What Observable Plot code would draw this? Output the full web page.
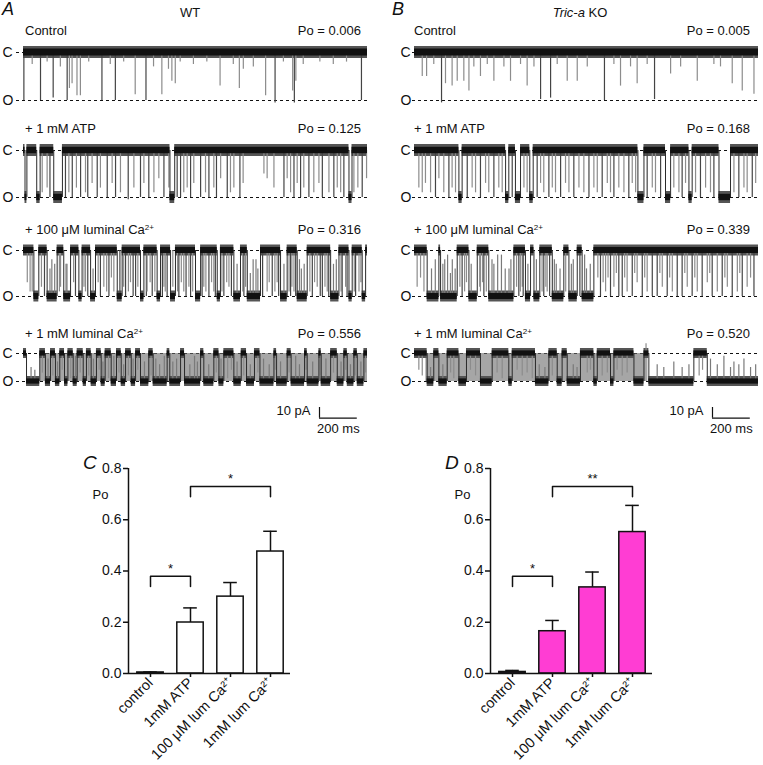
<!DOCTYPE html>
<html><head><meta charset="utf-8">
<script src="https://cdn.jsdelivr.net/npm/d3@7"></script>
<script src="https://cdn.jsdelivr.net/npm/@observablehq/plot@0.6"></script>
<style>
body{margin:0;background:#fff;}
#fig{position:relative;width:763px;height:765px;font-family:"Liberation Sans",Arial,Helvetica,sans-serif;color:#111;overflow:hidden;background:#fff;}
.t{position:absolute;white-space:nowrap;line-height:1;}
.abs{position:absolute;}
.abs svg{max-width:none;overflow:visible;}
sup{font-size:0.62em;vertical-align:0.55em;line-height:0;}
</style></head><body><div id="fig"></div>
<script>
// ---------------- DATA ----------------
const conditionNames = ["Control", "+ 1 mM ATP", "+ 100 \u03bcM luminal Ca", "+ 1 mM luminal Ca"];
const conditionSup = ["", "", "2+", "2+"];
const wtPo = [0.006, 0.125, 0.316, 0.556];
const koPo = [0.005, 0.168, 0.339, 0.520];
const duration = 1820; // ms
const scaleBarMs = 200;
const scaleBarPa = 10;

// single-channel traces: open dwells [start, end] (ms), brief openings [t, depth], brief closings [t, depth], unresolved bursts [start, end]
const wtControlOpen = [];
const wtControlBrief = [[2,1.0],[90,1.0],[157,0.95],[231,1.0],[243,0.75],[257,0.65],[283,0.9],[301,0.9],[415,1.0],[486,1.0],[591,0.88],[648,1.0],[732,0.88],[767,0.35],[785,0.6],[803,0.65],[1040,0.7],[1142,0.75],[1163,0.35],[1281,0.9],[1331,1.05],[1424,0.8],[1433,1.05],[1441,0.6],[1788,1.0],[46,0.25],[125,0.2],[195,0.3],[345,0.2],[459,0.25],[530,0.2],[688,0.3],[829,0.2],[899,0.25],[970,0.2],[1110,0.25],[1216,0.3],[1375,0.2],[1480,0.25],[1568,0.2],[1639,0.25],[1709,0.2]];
const wtControlFlick = [];
const wtControlBurst = [];

const koControlOpen = [];
const koControlBrief = [[41,0.5],[64,0.5],[143,1.05],[164,0.65],[199,0.7],[226,0.6],[261,0.6],[288,0.8],[349,0.5],[420,0.6],[508,0.6],[596,0.7],[667,0.98],[720,0.95],[808,0.6],[861,0.6],[1005,1.0],[1090,0.7],[1178,0.65],[1270,0.98],[1355,0.45],[1496,0.6],[1681,0.65],[1734,0.8],[1796,0.87],[102,0.25],[314,0.3],[385,0.25],[473,0.3],[561,0.25],[632,0.3],[755,0.25],[914,0.3],[1055,0.25],[1143,0.3],[1231,0.25],[1408,0.3],[1584,0.25],[1619,0.3]];
const koControlFlick = [];
const koControlBurst = [];

const wtAtpOpen = [[8,18],[70,88],[160,206],[775,800],[1722,1738]];
const wtAtpBrief = [[99,0.9],[125,0.8],[140,1.0],[222,1.0],[240,0.9],[258,1.0],[280,0.8],[302,1.0],[328,0.9],[340,1.0],[363,0.7],[390,1.0],[407,0.8],[443,1.0],[469,0.7],[487,1.0],[513,0.9],[554,1.05],[584,0.8],[619,1.0],[637,0.7],[663,1.0],[690,0.9],[716,0.6],[743,1.0],[769,0.8],[813,1.0],[831,1.0],[848,0.9],[866,0.8],[884,1.0],[901,0.7],[937,1.0],[963,0.9],[981,1.0],[1007,0.8],[1021,1.0],[1043,0.6],[1078,1.0],[1095,0.9],[1113,0.8],[1145,1.0],[1162,0.7],[1272,0.5],[1289,0.6],[1325,0.8],[1378,1.0],[1395,0.6],[1413,0.9],[1431,1.0],[1448,0.7],[1466,1.0],[1483,0.8],[1510,1.0],[1536,0.9],[1563,0.7],[1581,1.0],[1616,0.9],[1642,1.0],[1660,0.8],[1678,0.9],[1695,1.0],[1748,0.9],[1769,0.8],[1792,1.0],[1815,0.6]];
const wtAtpFlick = [];
const wtAtpBurst = [];

const koAtpOpen = [[235,252],[482,499],[534,561],[610,628],[1182,1214],[1328,1355],[1452,1469],[1611,1672]];
const koAtpBrief = [[23,0.8],[41,0.9],[58,0.7],[85,0.9],[111,1.0],[129,0.6],[155,0.9],[182,1.0],[199,0.8],[217,0.9],[279,1.0],[305,0.8],[323,0.9],[349,1.0],[376,0.7],[393,0.9],[420,1.0],[446,0.8],[464,0.9],[517,1.0],[579,0.8],[596,0.9],[649,1.0],[667,0.7],[684,0.9],[711,1.0],[729,0.8],[746,0.9],[773,1.0],[799,0.7],[817,0.9],[843,1.0],[870,0.8],[896,0.9],[923,1.0],[949,0.8],[967,0.9],[993,1.0],[1020,0.7],[1037,0.9],[1055,1.0],[1081,0.8],[1108,0.9],[1134,1.0],[1152,0.7],[1170,0.9],[1231,1.0],[1258,0.8],[1275,0.9],[1302,1.0],[1372,0.8],[1399,0.9],[1416,1.0],[1434,0.7],[1487,0.9],[1513,1.0],[1540,0.8],[1566,0.9],[1584,1.0],[1690,0.9],[1716,1.0],[1743,0.8],[1760,0.9],[1787,1.0],[1805,0.7]];
const koAtpFlick = [];
const koAtpBurst = [];

const wtCa100Open = [[55,81],[125,178],[213,249],[293,310],[355,381],[496,522],[619,637],[707,725],[778,804],[910,937],[1025,1042],[1113,1148],[1184,1254],[1360,1395],[1448,1501],[1625,1669],[1722,1739],[1792,1810]];
const wtCa100Brief = [[20,0.7],[35,0.9],[46,0.9],[95,0.8],[111,1],[190,0.9],[196,0.8],[265,0.7],[275,1],[320,0.8],[328,0.9],[340,1],[395,0.7],[407,1],[425,0.8],[440,0.9],[452,1],[465,0.6],[478,0.9],[510,1],[530,0.8],[540,1],[555,0.9],[566,0.7],[580,1],[593,1],[605,0.8],[650,1],[654,0.9],[670,0.7],[681,1],[695,0.9],[735,1],[743,0.8],[750,0.9],[760,1],[790,0.8],[815,0.9],[822,1],[835,0.7],[848,0.9],[860,1],[875,0.8],[884,1],[895,0.9],[945,1],[954,0.8],[965,0.9],[981,1],[995,0.7],[1007,0.9],[1015,1],[1050,0.9],[1060,1],[1075,0.7],[1087,0.8],[1100,1],[1160,0.9],[1166,1],[1175,0.8],[1265,1],[1289,0.9],[1300,0.7],[1316,1],[1330,0.9],[1342,0.7],[1350,1],[1405,0.9],[1413,1],[1420,0.8],[1431,0.9],[1440,1],[1515,0.9],[1528,1],[1540,0.7],[1554,0.8],[1570,1],[1581,1],[1595,0.8],[1607,0.9],[1615,1],[1680,0.9],[1686,1],[1704,0.8],[1712,1],[1750,0.9],[1757,1],[1775,0.9],[1785,0.7]];
const wtCa100Flick = [[140,0.6],[150,0.8],[165,0.7],[225,0.7],[230,0.7],[368,0.6],[1130,0.7],[1200,0.5],[1215,0.8],[1230,0.8],[1240,0.6],[1378,0.7],[1460,0.8],[1470,0.6],[1485,0.7],[1640,0.7],[1655,0.8]];
const wtCa100Burst = [];

const koCa100Open = [[67,129],[138,226],[288,332],[393,526],[587,614],[632,663],[729,790],[817,861],[887,949]];
const koCa100Brief = [[14,0.8],[32,0.6],[50,0.9],[240,0.8],[252,1],[265,0.9],[275,0.7],[345,0.8],[349,0.9],[360,0.7],[367,1],[380,0.9],[540,0.8],[552,1],[560,0.9],[570,0.8],[575,1],[675,0.9],[684,1],[695,0.8],[702,0.9],[715,1],[800,0.9],[875,1],[970,0.6],[984,1],[998,0.7],[1011,0.9],[1024,0.6],[1037,1],[1055,0.8],[1068,0.5],[1081,1],[1099,1],[1112,0.6],[1125,0.9],[1152,1],[1165,0.5],[1178,0.7],[1205,1],[1218,0.6],[1231,0.9],[1258,1],[1284,1],[1298,0.5],[1311,0.8],[1337,1],[1350,0.6],[1364,0.9],[1390,1],[1416,1],[1430,0.5],[1443,0.8],[1469,1],[1483,0.6],[1496,0.9],[1522,1],[1549,0.7],[1562,0.5],[1575,1],[1602,0.9],[1628,1],[1642,0.6],[1655,0.8],[1681,1],[1708,0.9],[1721,0.5],[1734,1],[1760,0.8],[1778,0.6],[1796,1]];
const koCa100Flick = [[90,0.6],[110,0.8],[150,0.7],[160,0.8],[175,0.9],[190,0.5],[200,0.8],[215,0.6],[300,0.7],[410,0.8],[420,0.7],[440,0.9],[460,0.9],[480,0.6],[500,0.6],[510,0.8],[600,0.7],[645,0.8],[740,0.8],[750,0.7],[770,0.6],[830,0.7],[840,0.8],[900,0.9],[910,0.6],[930,0.7]];
const koCa100Burst = [];

const wtCa1Open = [[16,86],[116,143],[169,192],[217,235],[263,284],[316,333],[358,386],[411,432],[464,492],[517,540],[570,593],[619,663],[686,760],[774,831],[852,937],[954,1007],[1034,1060],[1113,1152],[1180,1222],[1251,1325],[1339,1395],[1416,1487],[1501,1563],[1575,1625],[1660,1695],[1713,1748],[1766,1801]];
const wtCa1Brief = [[100,0.7],[155,0.8],[205,0.6],[250,0.9],[300,0.7],[345,0.8],[400,0.6],[450,0.9],[505,0.7],[555,0.8],[605,0.6],[675,0.8],[1020,0.7],[1080,0.9],[1100,0.6],[1165,0.8],[1240,0.7],[1332,0.6],[1405,0.7],[1495,0.6],[1570,0.8],[1640,0.7],[1705,0.6],[1755,0.8],[1810,0.7]];
const wtCa1Flick = [[40,0.5],[60,0.4],[130,0.8],[180,0.7],[275,0.9],[370,0.8],[420,0.7],[478,0.9],[530,0.6],[580,0.8],[640,0.7],[700,0.8],[720,0.6],[745,0.9],[790,0.7],[810,0.8],[880,0.6],[905,0.9],[920,0.7],[980,0.6],[1045,0.8],[1130,0.7],[1200,0.6],[1270,0.8],[1300,0.6],[1360,0.7],[1440,0.9],[1460,0.6],[1530,0.7],[1600,0.8],[1680,0.7],[1730,0.6],[1785,0.7]];
const wtCa1Burst = [[90,1820]];

const koCa1Open = [[67,102],[129,173],[235,275],[349,411],[499,517],[640,711],[755,781],[808,878],[949,967],[1037,1055],[1161,1214],[1240,1478],[1549,1820]];
const koCa1Brief = [[23,0.6],[41,0.8],[191,0.7],[208,0.9],[296,0.6],[323,0.8],[437,0.7],[464,0.9],[543,0.6],[570,0.8],[596,0.7],[623,0.9],[729,0.8],[914,0.7],[931,0.6],[993,0.8],[1020,0.7],[1072,0.6],[1099,0.8],[1125,0.7],[1225,-0.35],[1506,0.8],[1524,0.6]];
const koCa1Flick = [[85,0.5],[150,0.6],[660,0.6],[690,0.5],[840,0.6],[860,0.5],[1284,0.6],[1319,0.5],[1372,0.7],[1416,0.5],[1452,0.6],[1566,0.8],[1602,0.6],[1637,0.9],[1672,0.5],[1690,0.7],[1716,0.6],[1743,0.8],[1778,0.5],[1805,0.6]];
const koCa1Burst = [[60,1235]];

// summary bar charts
const barCategories = ["control", "1mM ATP", "100 \u03bcM lum Ca\u00b2\u207a", "1mM lum Ca\u00b2\u207a"];
const wtMeanPo = [0.004, 0.199, 0.300, 0.476];
const wtSemPo = [0.002, 0.057, 0.055, 0.079];
const koMeanPo = [0.006, 0.165, 0.336, 0.552];
const koSemPo = [0.006, 0.042, 0.060, 0.104];
const yTicks = [0, 0.2, 0.4, 0.6, 0.8];
const wtSig = [{a: 0, b: 1, y: 0.38, label: "*"}, {a: 1, b: 3, y: 0.73, label: "*"}];
const koSig = [{a: 0, b: 1, y: 0.38, label: "*"}, {a: 1, b: 3, y: 0.73, label: "**"}];

// ---------------- LAYOUT ----------------
const fig = document.getElementById("fig");
const FONT = '"Liberation Sans", Arial, Helvetica, sans-serif';
const rowC = [52, 150, 250, 353];
const rowO = [100, 197, 296, 381];
const titleY = [30, 128, 229, 333];
const noiseOuter = [6, 6, 5.5, 5];
const noiseInner = [3.5, 3.2, 3, 2.6];
const panels = [
  {svgLeft: 0, svgW: 372, x0: 23, x1: 367, labelX: 2, dashStart: 16, titleX: 25, poRight: 361,
   open: [wtControlOpen, wtAtpOpen, wtCa100Open, wtCa1Open], brief: [wtControlBrief, wtAtpBrief, wtCa100Brief, wtCa1Brief],
   flick: [wtControlFlick, wtAtpFlick, wtCa100Flick, wtCa1Flick], burst: [wtControlBurst, wtAtpBurst, wtCa100Burst, wtCa1Burst], po: wtPo, barX: 319},
  {svgLeft: 388, svgW: 375, x0: 414, x1: 758, labelX: 400, dashStart: 412, titleX: 414, poRight: 750,
   open: [koControlOpen, koAtpOpen, koCa100Open, koCa1Open], brief: [koControlBrief, koAtpBrief, koCa100Brief, koCa1Brief],
   flick: [koControlFlick, koAtpFlick, koCa100Flick, koCa1Flick], burst: [koControlBurst, koAtpBurst, koCa100Burst, koCa1Burst], po: koPo, barX: 712}
];

function text(html, {x, yc, fs = 13, align = "left", italic = false}) {
  const d = document.createElement("div");
  d.className = "t";
  d.innerHTML = html;
  d.style.fontSize = fs + "px";
  d.style.top = (yc - 0.49 * fs) + "px";
  if (italic) d.style.fontStyle = "italic";
  if (align === "left") d.style.left = x + "px";
  else if (align === "right") d.style.right = (763 - x) + "px";
  else { d.style.left = x + "px"; d.style.transform = "translateX(-50%)"; }
  fig.appendChild(d);
}
function place(svg, left, top) {
  const w = document.createElement("div");
  w.className = "abs";
  w.style.left = left + "px";
  w.style.top = top + "px";
  w.appendChild(svg);
  fig.appendChild(w);
}
function complement(open) {
  const out = []; let t = 0;
  for (const [a, b] of open) { if (a > t) out.push([t, a]); t = Math.max(t, b); }
  if (t < duration) out.push([t, duration]);
  return out;
}

// headings
text("A", {x: 2, yc: 9, fs: 18, italic: true});
text("WT", {x: 190, yc: 12.5, fs: 13, align: "center"});
text("B", {x: 392, yc: 9, fs: 18, italic: true});
text("<i>Tric-a</i> KO", {x: 580, yc: 12.5, fs: 13, align: "center"});

for (const P of panels) {
  for (let r = 0; r < 4; r++) {
    text(conditionNames[r] + (conditionSup[r] ? "<sup>" + conditionSup[r] + "</sup>" : ""), {x: P.titleX, yc: titleY[r], fs: 13});
    text("Po = " + P.po[r].toFixed(3), {x: P.poRight, yc: titleY[r], fs: 13, align: "right"});
    const c = rowC[r], o = rowO[r], amp = o - c;
    const padT = 14, padB = 14;
    const nO = noiseOuter[r] / amp, nI = noiseInner[r] / amp;
    const open = P.open[r], closed = complement(open);
    const edges = open.flat().filter(t => t > 0 && t < duration);
    const svg = Plot.plot({
      width: P.svgW, height: amp + padT + padB,
      marginLeft: P.x0 - P.svgLeft, marginRight: P.svgLeft + P.svgW - P.x1,
      marginTop: padT, marginBottom: padB,
      x: {domain: [0, duration], axis: null},
      y: {domain: [-1, 0], axis: null},
      style: {fontFamily: FONT, fontSize: "14px", color: "#111", background: "transparent", overflow: "visible"},
      marks: [
        Plot.ruleY([0, -1], {stroke: "#111", strokeWidth: 1, strokeDasharray: "3,3", insetLeft: -(P.x0 - P.dashStart)}),
        Plot.text([{n: "C", v: 0}, {n: "O", v: -1}], {y: "v", text: "n", frameAnchor: "left", textAnchor: "start", dx: P.labelX - P.x0, fontSize: 14, fill: "#111"}),
        Plot.rect(P.burst[r], {x1: d => d[0], x2: d => d[1], y1: -1, y2: 0, fill: "#6a6a6a", fillOpacity: 0.6}),
        Plot.rect(closed, {x1: d => d[0], x2: d => d[1], y1: -nO, y2: nO, fill: "#555"}),
        Plot.rect(open, {x1: d => d[0], x2: d => d[1], y1: -1 - nO, y2: -1 + nO, fill: "#555"}),
        Plot.ruleX(P.brief[r], {x: d => d[0], y1: 0, y2: d => -d[1], stroke: d => d[1] >= 0.95 ? "#444" : "#8c8c8c", strokeWidth: 1.2}),
        Plot.ruleX(P.flick[r], {x: d => d[0], y1: -1, y2: d => -1 + d[1], stroke: "#7a7a7a", strokeWidth: 1.2}),
        Plot.ruleX(edges, {y1: 0, y2: -1, stroke: "#2a2a2a", strokeWidth: 1}),
        Plot.rect(closed, {x1: d => d[0], x2: d => d[1], y1: -nI, y2: nI, fill: "#111"}),
        Plot.rect(open, {x1: d => d[0], x2: d => d[1], y1: -1 - nI, y2: -1 + nI, fill: "#111"})
      ]
    });
    place(svg, P.svgLeft, c - padT);
  }
  // scale bar
  const pxPerMs = (P.x1 - P.x0) / duration;
  const barW = scaleBarMs * pxPerMs, barH = scaleBarPa * 1.07;
  const ml = 60, mt = 4, mb = 24;
  const sb = Plot.plot({
    width: ml + barW + 20, height: mt + barH + mb,
    marginLeft: ml, marginRight: 20, marginTop: mt, marginBottom: mb,
    x: {domain: [0, scaleBarMs], axis: null},
    y: {domain: [0, scaleBarPa], axis: null},
    style: {fontFamily: FONT, fontSize: "13px", color: "#111", background: "transparent", overflow: "visible"},
    marks: [
      Plot.ruleX([0], {y1: 0, y2: scaleBarPa, stroke: "#111", strokeWidth: 1.2}),
      Plot.ruleY([0], {x1: 0, x2: scaleBarMs, stroke: "#111", strokeWidth: 1.2}),
      Plot.text([scaleBarPa + " pA"], {x: 0, y: scaleBarPa * 0.7, dx: -9, textAnchor: "end", fontSize: 13, fill: "#111"}),
      Plot.text([scaleBarMs + " ms"], {x: scaleBarMs / 2, y: 0, dy: 11, fontSize: 13, fill: "#111"})
    ]
  });
  place(sb, P.barX - ml, 407 - mt);
}

// ---------------- BAR CHARTS ----------------
function barChart(mean, sem, sig, fill) {
  const bars = barCategories.map((c, i) => ({i, c, v: mean[i], e: sem[i]}));
  const drop = 0.04;
  const brackets = sig.flatMap((s, k) => [
    {k, x: s.a, y: s.y - drop}, {k, x: s.a, y: s.y}, {k, x: s.b, y: s.y}, {k, x: s.b, y: s.y - drop}
  ]);
  return Plot.plot({
    width: 340, height: 325,
    marginLeft: 88, marginRight: 90, marginTop: 28, marginBottom: 92,
    x: {domain: [-0.55, 3.5], axis: null},
    y: {domain: [0, 0.8], axis: null},
    style: {fontFamily: FONT, fontSize: "14px", color: "#111", background: "transparent", overflow: "visible"},
    marks: [
      Plot.ruleX(bars, {x: "i", y1: "v", y2: d => d.v + d.e, stroke: "#111", strokeWidth: 1.5}),
      Plot.ruleY(bars, {y: d => d.v + d.e, x1: d => d.i - 0.17, x2: d => d.i + 0.17, stroke: "#111", strokeWidth: 1.5}),
      Plot.rectY(bars, {x1: d => d.i - 0.33, x2: d => d.i + 0.33, y1: 0, y2: "v", fill, stroke: "#111", strokeWidth: 1.5}),
      Plot.ruleX([-0.55], {stroke: "#111", strokeWidth: 1.5}),
      Plot.ruleY([0], {stroke: "#111", strokeWidth: 1.5}),
      Plot.axisY({ticks: yTicks, tickFormat: d3.format(".1f"), tickSize: 5, tickPadding: 2, strokeWidth: 1.5, fontSize: 14}),
      Plot.axisX({ticks: [0, 1, 2, 3], tickFormat: i => barCategories[i], tickRotate: -45, tickSize: 4, tickPadding: 3, strokeWidth: 1.5, fontSize: 14.5}),
      Plot.line(brackets, {x: "x", y: "y", z: "k", stroke: "#111", strokeWidth: 1.5}),
      Plot.text(sig, {x: d => (d.a + d.b) / 2, y: d => d.y + 0.03, text: "label", fontSize: 13, fill: "#111"}),
      Plot.text(["Po"], {frameAnchor: "top-left", textAnchor: "start", dx: -36, dy: 21, fontSize: 13, fill: "#111"})
    ]
  });
}
place(barChart(wtMeanPo, wtSemPo, wtSig, "#fff"), 40, 440);
place(barChart(koMeanPo, koSemPo, koSig, "#ff3dd3"), 402, 440);
text("C", {x: 83, yc: 462, fs: 19, italic: true});
text("D", {x: 445, yc: 462, fs: 19, italic: true});
</script></body></html>
